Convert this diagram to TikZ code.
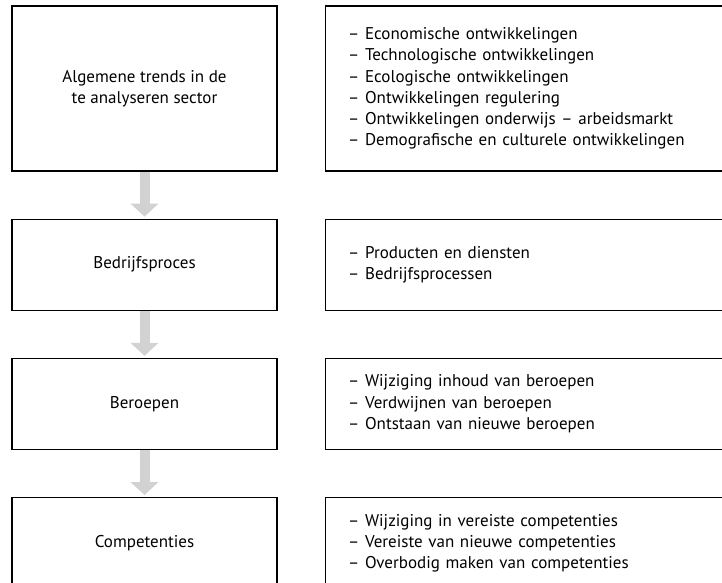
\documentclass[tikz,border=0pt]{standalone}
\usepackage{fontspec}
\setmainfont{PT Sans}
\usetikzlibrary{positioning,arrows.meta}
\tikzset{
  every node/.style={
    font=\fontsize{17}{21.3}\selectfont
  },
  stage/.style={
    shape=rectangle,
    draw=black,
    line width=1.2pt,
    minimum width=265pt,
    minimum height=91pt,
    align=center
  },
  details/.style={
    shape=rectangle,
    draw=black,
    line width=1.2pt,
    minimum height=91pt,
    text width=374pt,
    inner xsep=23pt,
    align=left
  },
  flow/.style={
    draw=gray!35,
    line width=10pt,
    shorten >=2pt,
    -{Triangle[width=28pt,length=13pt,line width=0pt]}
  }
}
\begin{document}
\begin{tikzpicture}
  \useasboundingbox (0,0) rectangle (722pt,-582pt);
  % left column
  \node [stage, minimum height=165pt] (trends) at (144.5pt,-88.5pt) {Algemene trends in de\\te analyseren sector};
  \node [stage, below=47pt of trends] (process) {Bedrijfsproces};
  \node [stage, below=47pt of process] (jobs) {Beroepen};
  \node [stage, below=47pt of jobs] (skills) {Competenties};
  % right column
  \node [details, minimum height=165pt, right=47pt of trends] (trendlist) {
    – Economische ontwikkelingen\\
    – Technologische ontwikkelingen\\
    – Ecologische ontwikkelingen\\
    – Ontwikkelingen regulering\\
    – Ontwikkelingen onderwijs – arbeidsmarkt\\
    – Demografische en culturele ontwikkelingen};
  \node [details, right=47pt of process] (processlist) {
    – Producten en diensten\\
    – Bedrijfsprocessen};
  \node [details, right=47pt of jobs] (joblist) {
    – Wijziging inhoud van beroepen\\
    – Verdwijnen van beroepen\\
    – Ontstaan van nieuwe beroepen};
  \node [details, right=47pt of skills] (skilllist) {
    – Wijziging in vereiste competenties\\
    – Vereiste van nieuwe competenties\\
    – Overbodig maken van competenties};
  % arrows
  \draw [flow] (trends) -- (process);
  \draw [flow] (process) -- (jobs);
  \draw [flow] (jobs) -- (skills);
\end{tikzpicture}
\end{document}
